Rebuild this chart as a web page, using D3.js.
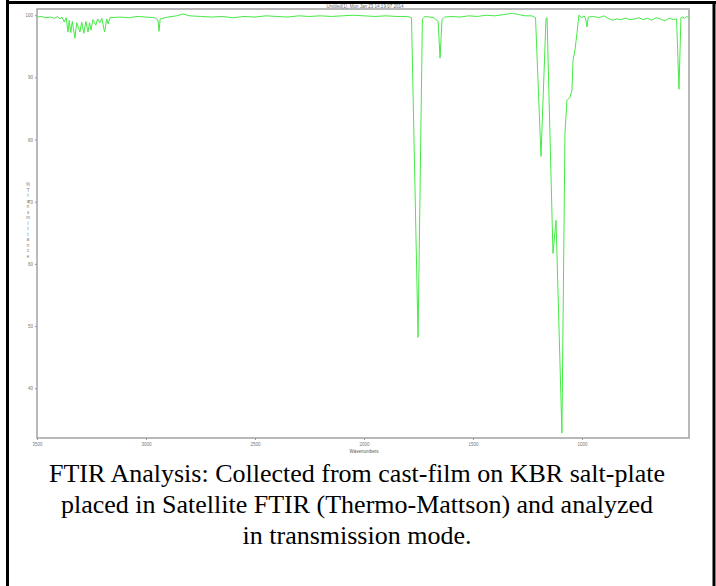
<!DOCTYPE html>
<meta charset="utf-8">
<style>
body { margin: 0; background: #fff; }
.frame { fill: none; stroke: #a8a8a8; stroke-width: 1.6px; }
.tick text { font: 4.5px sans-serif; fill: #777; }
.tick line { stroke: #999; }
.spectrum { fill: none; stroke: #45ea45; stroke-width: 1px; }
.caption { font: 26px "Liberation Serif", "Times New Roman", serif; fill: #000; }
</style>
<svg width="716" height="586"></svg>
<script src="https://d3js.org/d3.v7.min.js"></script>
<script>
// wavenumber (cm-1) and %T
var wavenumbers = [
  3500, 3480, 3460, 3440, 3420, 3405, 3394, 3385, 3375, 3366, 3358, 3352, 3345, 3338,
  3326, 3318, 3303, 3295, 3285, 3276, 3266, 3259, 3252, 3244, 3230, 3222, 3211, 3203,
  3190, 3180, 3174, 3165, 3120, 3080, 3040, 3000, 2960, 2945, 2940, 2935, 2900, 2860,
  2830, 2800, 2750, 2700, 2650, 2600, 2550, 2500, 2450, 2400, 2350, 2300, 2250, 2200,
  2150, 2100, 2050, 2000, 1950, 1900, 1850, 1800, 1782, 1752, 1732, 1720, 1700, 1680,
  1660, 1651, 1642, 1630, 1600, 1560, 1520, 1480, 1440, 1400, 1360, 1320, 1290, 1260,
  1230, 1213, 1188, 1165, 1160, 1156, 1133, 1119, 1092, 1078, 1069, 1055, 1046, 1041,
  1032, 1023, 1014, 1000, 990, 983, 977, 971, 950, 920, 900, 880, 860, 840, 820, 800,
  780, 760, 740, 720, 700, 680, 660, 640, 620, 600, 580, 566, 555, 546, 540, 530, 520, 510
];
var transmittance = [
  99.7, 99.8, 99.6, 99.7, 99.5, 99.8, 99.4, 99.7, 98.9, 99.6, 97.3, 99.2, 97.2, 99.0,
  96.3, 98.8, 97.3, 98.9, 97.1, 99.0, 97.3, 98.8, 97.6, 99.3, 98.4, 99.4, 98.8, 99.5,
  97.3, 99.4, 98.6, 99.6, 99.7, 99.6, 99.8, 99.7, 99.6, 99.2, 97.4, 99.4, 99.7, 99.9,
  100.2, 99.9, 99.8, 99.7, 99.8, 99.6, 99.8, 99.7, 99.9, 99.8, 99.7, 99.9, 99.8, 99.9,
  99.8, 99.9, 100.0, 99.9, 99.8, 99.9, 99.8, 99.8, 99.6, 48.2, 99.4, 99.8, 99.7, 99.6,
  99.0, 93.1, 99.3, 99.7, 99.8, 99.7, 99.9, 99.8, 100.0, 99.9, 100.1, 100.3, 100.1, 99.9,
  99.9, 99.6, 77.3, 99.5, 99.6, 93.6, 61.7, 67.0, 32.8, 81.0, 86.3, 86.8, 87.9, 92.8,
  94.4, 97.1, 100.0, 99.6, 99.9, 99.4, 98.1, 99.7, 99.8, 99.6, 99.9, 99.5, 99.2, 99.4,
  99.3, 99.5, 99.3, 99.4, 99.6, 99.3, 99.5, 99.2, 99.6, 99.4, 99.1, 99.5, 99.3, 99.4,
  88.1, 99.6, 99.7, 99.5, 99.8, 99.6
];
var xTicks = [3500, 3000, 2500, 2000, 1500, 1000];
var yTicks = [100, 90, 80, 70, 60, 50, 40];
var plotTitle = "Untitled(1), Mon Jan 23 14:19:07 2014";
var yLabel = "%Transmittance";
var xLabel = "Wavenumbers";
var caption = [
  "FTIR Analysis: Collected from cast-film on KBR salt-plate",
  "placed in Satellite FTIR (Thermo-Mattson) and analyzed",
  "in transmission mode."
];

var svg = d3.select("svg");

// table cell borders
svg.append("line").attr("x1", 7.5).attr("x2", 7.5).attr("y1", 0).attr("y2", 586)
    .attr("stroke", "#000").attr("stroke-width", 3);
svg.append("line").attr("x1", 6).attr("x2", 716).attr("y1", 2.5).attr("y2", 2.5)
    .attr("stroke", "#000").attr("stroke-width", 3);
svg.append("line").attr("x1", 714).attr("x2", 714).attr("y1", 1).attr("y2", 586)
    .attr("stroke", "#000").attr("stroke-width", 3);

var plotL = 37, plotR = 689, plotT = 9, plotB = 438;

var x = d3.scaleLinear().domain([3500, 509]).range([plotL, plotR]),
    y = d3.scaleLinear().domain([32, 101]).range([plotB, plotT]);

svg.append("rect")
    .attr("class", "frame")
    .attr("x", plotL).attr("y", plotT)
    .attr("width", plotR - plotL).attr("height", plotB - plotT);

svg.append("g")
    .attr("transform", "translate(0," + plotB + ")")
    .call(d3.axisBottom(x).tickValues(xTicks).tickSize(2).tickPadding(3).tickFormat(d3.format("d")))
    .call(function(g) { g.select(".domain").remove(); });

svg.append("g")
    .attr("transform", "translate(" + plotL + ",0)")
    .call(d3.axisLeft(y).tickValues(yTicks).tickSize(2).tickPadding(2).tickFormat(d3.format("d")))
    .call(function(g) { g.select(".domain").remove(); });

svg.append("text")
    .attr("x", 365).attr("y", 7.5)
    .attr("text-anchor", "middle")
    .style("font", "4.5px sans-serif").style("fill", "#666")
    .text(plotTitle);

svg.append("text")
    .attr("x", 364).attr("y", 453)
    .attr("text-anchor", "middle")
    .style("font", "4.5px sans-serif").style("fill", "#555")
    .text(xLabel);

svg.append("text")
    .attr("x", 28)
    .attr("text-anchor", "middle")
    .style("font", "4.5px sans-serif").style("fill", "#777")
  .selectAll("tspan")
    .data(yLabel.split(""))
  .enter().append("tspan")
    .attr("x", 28)
    .attr("y", function(d, i) { return 186 + i * 5.5; })
    .text(function(d) { return d; });

var pts = wavenumbers.map(function(w, i) { return [w, transmittance[i]]; });

var line = d3.line()
    .x(function(d) { return x(d[0]); })
    .y(function(d) { return y(d[1]); });

svg.append("path")
    .datum(pts)
    .attr("class", "spectrum")
    .attr("d", line);

svg.append("g")
  .selectAll("text")
    .data(caption)
  .enter().append("text")
    .attr("class", "caption")
    .attr("x", 357)
    .attr("y", function(d, i) { return 482 + i * 31; })
    .attr("text-anchor", "middle")
    .text(function(d) { return d; });
</script>
